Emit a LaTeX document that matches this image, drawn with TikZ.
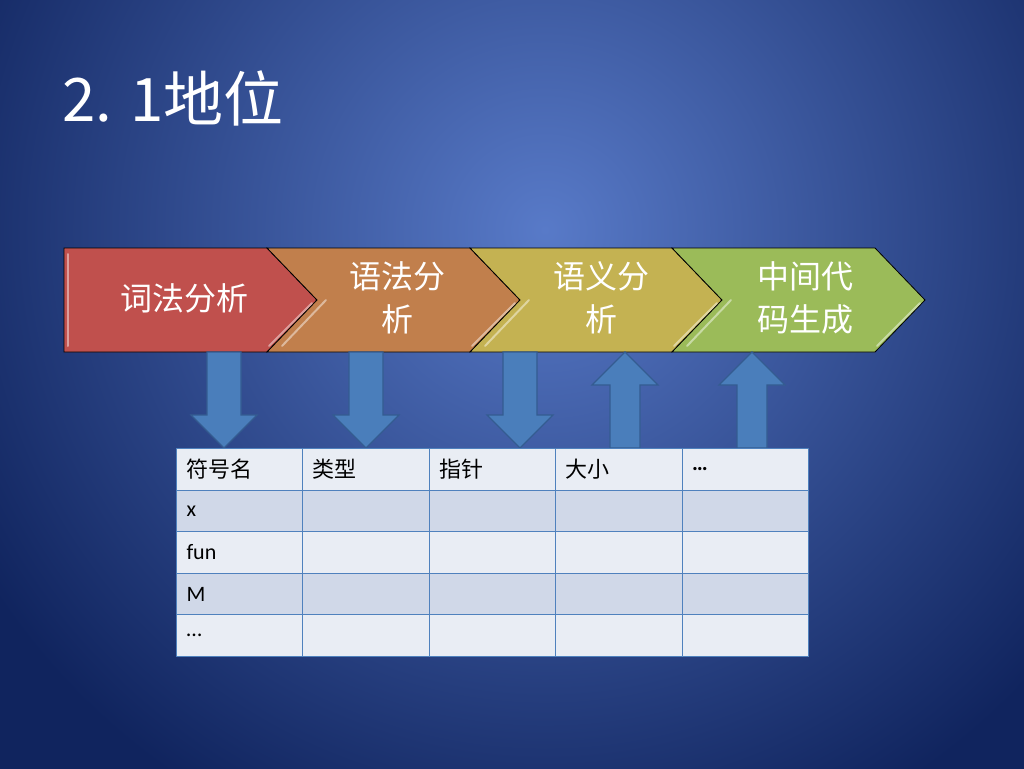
\documentclass[tikz,border=0pt]{standalone}
\usepackage{fontspec}
\newfontfamily\cjk{Noto Sans CJK SC}
\newfontfamily\calibri{Carlito}
\definecolor{bglight}{RGB}{88,122,200}
\definecolor{bgdark}{RGB}{16,36,94}
\definecolor{chevred}{RGB}{192,80,77}
\definecolor{chevorange}{RGB}{193,127,76}
\definecolor{chevyellow}{RGB}{196,178,82}
\definecolor{chevgreen}{RGB}{155,187,89}
\definecolor{arrowfill}{RGB}{74,126,187}
\definecolor{arrowline}{RGB}{52,92,145}
\definecolor{rowlight}{RGB}{233,237,244}
\definecolor{rowdark}{RGB}{208,216,232}
\definecolor{gridline}{RGB}{79,129,189}
\tikzset{
  chevron/.style={draw=black,line width=0.8pt,line join=miter},
  shine/.style={line width=2pt,line cap=round},
  chevtext/.style={text=white,align=center,font=\cjk\fontsize{32}{43}\selectfont},
  blockarrow/.style={fill=arrowfill,draw=arrowline,line width=1.2pt,line join=miter},
  cell/.style={draw=gridline,line width=1pt,anchor=north west,minimum height=41.6pt,
    text width=106.4pt,inner xsep=10pt,inner ysep=0pt,align=left,text=black},
}
\begin{document}
\begin{tikzpicture}[x=1pt,y=-1pt,line join=round]
\useasboundingbox (0,0) rectangle (1024,768);
% background
\begin{scope}
  \clip (-4,-4) rectangle (1028,772);
  \fill[bgdark] (-4,-4) rectangle (1028,772);
  \shade[inner color=bglight,outer color=bgdark] (545,230) circle (660pt);
\end{scope}
\node[anchor=base west,inner sep=0pt,text=white,font=\cjk\fontsize{60}{60}\selectfont] (title) at (62,121) {2. 1地位};
% phases
\draw[chevron,fill=chevred] (64,248) -- (267,248) -- (317,300) -- (267,352) -- (64,352) -- cycle;
\draw[chevron,fill=chevorange] (267,248) -- (470,248) -- (520,300) -- (470,352) -- (267,352) -- (317,300) -- cycle;
\draw[chevron,fill=chevyellow] (470,248) -- (672,248) -- (722,300) -- (672,352) -- (470,352) -- (520,300) -- cycle;
\draw[chevron,fill=chevgreen] (672,248) -- (875,248) -- (925,300) -- (875,352) -- (672,352) -- (722,300) -- cycle;
\draw[shine,chevred!55!white] (68,254) -- (68,346);
\draw[shine,chevred!55!white] (312,303) -- (269,346);
\draw[shine,chevorange!55!white] (326,300) -- (282,346);
\draw[shine,chevorange!55!white] (515,303) -- (472,346);
\draw[shine,chevyellow!55!white] (529,300) -- (485,346);
\draw[shine,chevyellow!55!white] (717,303) -- (674,346);
\draw[shine,chevgreen!55!white] (731,300) -- (687,346);
\draw[shine,chevgreen!55!white] (920,303) -- (877,346);
\node[chevtext] (lex) at (184,298) {词法分析};
\node[chevtext] (syn) at (397,298) {语法分\\析};
\node[chevtext] (sem) at (601,298) {语义分\\析};
\node[chevtext] (gen) at (805,298) {中间代\\码生成};
% arrows to and from the table
\foreach \cx in {224,366,520}
  \draw[blockarrow] (\cx-17,352) -- (\cx+17,352) -- (\cx+17,415) -- (\cx+33,415)
    -- (\cx,448) -- (\cx-33,415) -- (\cx-17,415) -- cycle;
\foreach \cx in {625,752}
  \draw[blockarrow] (\cx-15,448) -- (\cx+15,448) -- (\cx+15,385) -- (\cx+33,385)
    -- (\cx,352) -- (\cx-33,385) -- (\cx-15,385) -- cycle;
% symbol table
\foreach \c/\t in {0/符号名,1/类型,2/指针,3/大小,4/{\calibri\bfseries …}}
  \node[cell,fill=rowlight,font=\cjk\fontsize{22}{22}\selectfont] (h\c) at (176+126.4*\c,448) {\t};
\foreach \r/\t/\shade in {1/x/rowdark,2/fun/rowlight,3/M/rowdark,4/…/rowlight}{
  \node[cell,fill=\shade,font=\calibri\fontsize{22}{22}\selectfont] (r\r c0) at (176,448+41.6*\r) {\t};
  \foreach \c in {1,...,4}
    \node[cell,fill=\shade] (r\r c\c) at (176+126.4*\c,448+41.6*\r) {};
}
\end{tikzpicture}
\end{document}
